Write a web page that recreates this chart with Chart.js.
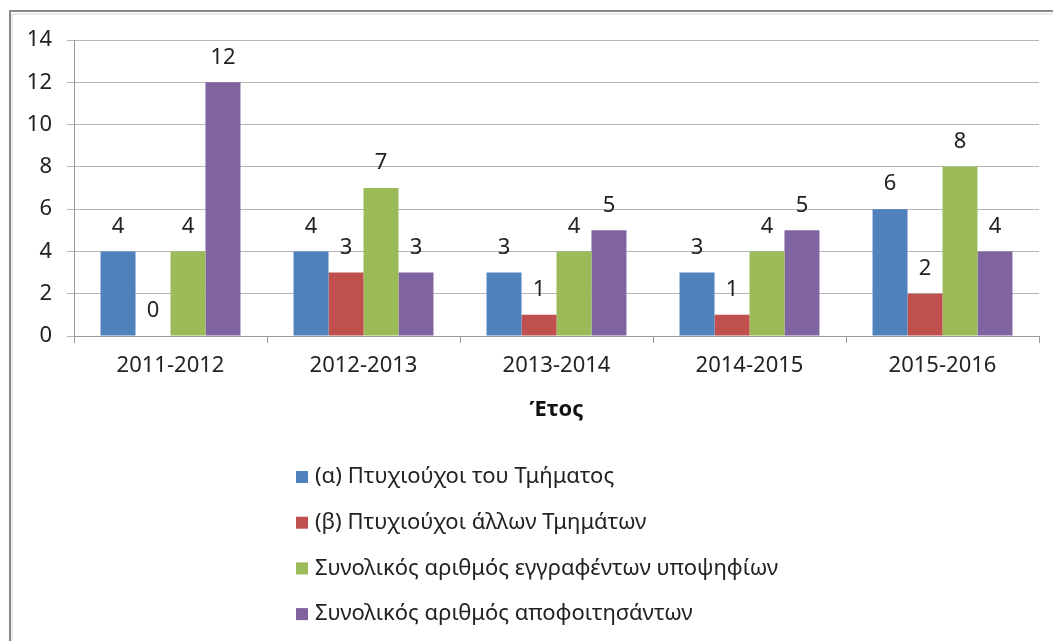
<!DOCTYPE html>
<html>
<head>
<meta charset="utf-8">
<script src="https://cdn.jsdelivr.net/npm/chart.js@4/dist/chart.umd.min.js"></script>
<style>
  html, body { margin: 0; padding: 0; background: #ffffff; }
  #wrap { width: 1053px; height: 641px; position: relative; }
</style>
</head>
<body>
<div id="wrap"><canvas id="c" width="1053" height="641"></canvas></div>
<script>
const categories = ['2011-2012', '2012-2013', '2013-2014', '2014-2015', '2015-2016'];
const seriesNames = [
  '(α) Πτυχιούχοι του Τμήματος',
  '(β) Πτυχιούχοι άλλων Τμημάτων',
  'Συνολικός αριθμός εγγραφέντων υποψηφίων',
  'Συνολικός αριθμός αποφοιτησάντων'
];
const graduatesDept = [4, 4, 3, 3, 6];
const graduatesOther = [0, 3, 1, 1, 2];
const enrolledTotal = [4, 7, 4, 4, 8];
const alumniTotal = [12, 3, 5, 5, 4];
const yTicks = [0, 2, 4, 6, 8, 10, 12, 14];
const axisTitle = 'Έτος';
const colors = ['#4f81bd', '#c0504d', '#9bbb59', '#8064a2'];

const FONT = '"Noto Sans", sans-serif';
const FS = 22;

const labelPlugin = {
  id: 'valueLabels',
  afterDatasetsDraw(chart) {
    const ctx = chart.ctx;
    ctx.save();
    ctx.font = FS + 'px ' + FONT;
    ctx.fillStyle = '#222';
    ctx.textAlign = 'center';
    ctx.textBaseline = 'middle';
    chart.data.datasets.forEach((ds, i) => {
      const meta = chart.getDatasetMeta(i);
      meta.data.forEach((bar, j) => {
        ctx.fillText(String(ds.data[j]), bar.x, bar.y - 25);
      });
    });
    ctx.restore();
  }
};

const framePlugin = {
  id: 'frame',
  beforeDraw(chart) {
    const ctx = chart.ctx;
    ctx.save();
    ctx.fillStyle = '#fff';
    ctx.fillRect(0, 0, chart.width, chart.height);
    ctx.strokeStyle = 'rgba(0,0,0,0.08)';
    ctx.lineWidth = 2;
    ctx.beginPath();
    ctx.moveTo(12, chart.height);
    ctx.lineTo(12, 14);
    ctx.lineTo(chart.width, 14);
    ctx.stroke();
    ctx.strokeStyle = '#8a8a8a';
    ctx.lineWidth = 2;
    ctx.beginPath();
    ctx.moveTo(10, chart.height);
    ctx.lineTo(10, 11);
    ctx.lineTo(chart.width, 11);
    ctx.stroke();
    ctx.restore();
  },
  afterDraw(chart) {
    // vertical legend, built from the datasets
    const ctx = chart.ctx;
    ctx.save();
    ctx.font = FS + 'px ' + FONT;
    ctx.textBaseline = 'middle';
    ctx.textAlign = 'left';
    const startY = 477, step = 45.7;
    chart.data.datasets.forEach((ds, i) => {
      const y = startY + i * step;
      ctx.fillStyle = ds.backgroundColor;
      ctx.fillRect(296, y - 6, 12, 12);
      ctx.fillStyle = '#222';
      ctx.fillText(ds.label, 315, y);
    });
    ctx.restore();
  }
};

const datasets = [graduatesDept, graduatesOther, enrolledTotal, alumniTotal].map((d, i) => ({
  label: seriesNames[i],
  data: d,
  backgroundColor: colors[i],
  borderWidth: 0,
  categoryPercentage: 0.725,
  barPercentage: 1.0
}));

new Chart(document.getElementById('c'), {
  type: 'bar',
  data: { labels: categories, datasets },
  plugins: [framePlugin, labelPlugin],
  options: {
    responsive: false,
    animation: false,
    devicePixelRatio: 1,
    layout: { padding: { left: 0, top: 40, right: 14, bottom: 641 - 423.2 } },
    plugins: { legend: { display: false }, tooltip: { enabled: false } },
    scales: {
      x: {
        grid: { drawOnChartArea: false, drawTicks: true, tickLength: 7, color: '#9a9a9a', offset: true },
        border: { color: '#9a9a9a', width: 1 },
        ticks: { color: '#222', font: { family: FONT, size: FS }, padding: 10 },
        title: { display: true, text: axisTitle, color: '#111', font: { family: FONT, size: FS, weight: 'bold' }, padding: 0 },
        afterFit(scale) { scale.height = 423.2 - 336; }
      },
      y: {
        min: 0, max: 14,
        afterBuildTicks(scale) { scale.ticks = yTicks.map(v => ({ value: v })); },
        grid: { color: '#b5b5b5', tickLength: 7, lineWidth: 1 },
        border: { color: '#9a9a9a', width: 1 },
        ticks: { color: '#222', font: { family: FONT, size: FS }, padding: 15 },
        afterFit(scale) { scale.width = 74; }
      }
    }
  }
});
</script>
</body>
</html>
